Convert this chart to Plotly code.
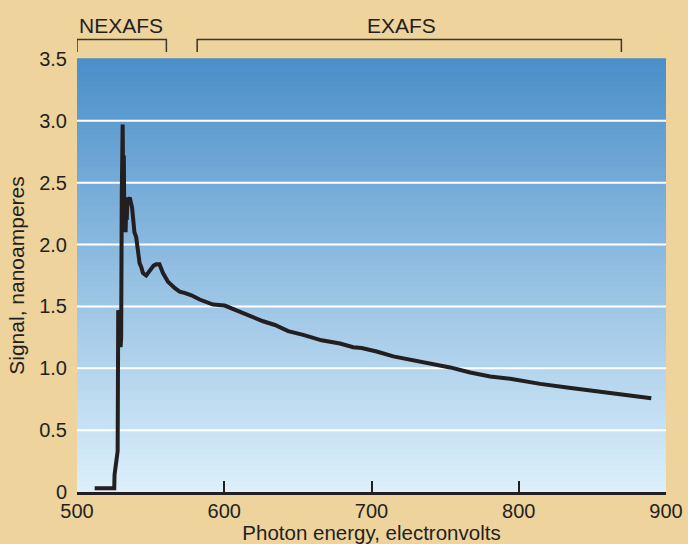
import plotly.graph_objects as go

# ---- data ----
energy_ev = [512, 525.3, 525.5, 526.2, 526.6, 527.2, 527.6, 528.0, 528.3, 528.6, 529.0, 529.6,
             530.0, 530.4, 531.0, 531.4, 531.8, 532.2, 532.6, 533.0, 533.4, 533.8, 534.3, 535.0,
             535.8, 536.6, 537.4, 538.2, 539.0, 540.2, 541.4, 542.5, 543.6, 544.8, 547.0, 549.0,
             550.5, 552.0, 553.8, 556.0, 558.4, 561.8, 566.3, 569.7, 573.0, 577.7, 583.3, 592.4,
             600.3, 608.3, 617.3, 626.4, 634.4, 643.4, 653.6, 659.3, 666.1, 678.6, 687.6, 693.3,
             703.5, 714.8, 726.2, 739.8, 753.4, 767.0, 780.6, 794.2, 801.0, 814.6, 832.8, 855.4,
             873.6, 890.0]
signal_na = [0.03, 0.03, 0.14, 0.20, 0.20, 0.31, 0.33, 1.47, 1.45, 1.20, 1.47, 1.17,
             1.25, 2.40, 2.97, 2.40, 2.72, 2.10, 2.35, 2.10, 2.30, 2.20, 2.38, 2.36,
             2.38, 2.35, 2.30, 2.20, 2.10, 2.06, 1.96, 1.85, 1.82, 1.77, 1.75, 1.78,
             1.81, 1.83, 1.84, 1.84, 1.77, 1.70, 1.65, 1.62, 1.61, 1.59, 1.556, 1.515,
             1.507, 1.47, 1.42, 1.38, 1.35, 1.30, 1.27, 1.25, 1.226, 1.20, 1.17, 1.164,
             1.136, 1.096, 1.069, 1.042, 1.007, 0.966, 0.934, 0.915, 0.90, 0.874, 0.845, 0.807,
             0.78, 0.757]

x_tickvals = [500, 600, 700, 800, 900]
x_ticktext = ["500", "600", "700", "800", "900"]
y_tickvals = [0, 0.5, 1.0, 1.5, 2.0, 2.5, 3.0, 3.5]
y_ticktext = ["0", "0.5", "1.0", "1.5", "2.0", "2.5", "3.0", "3.5"]
grid_vals = [0.5, 1.0, 1.5, 2.0, 2.5, 3.0]

regions = ["NEXAFS", "EXAFS"]
region_start = [500, 581.6]
region_end = [560.7, 869.7]
region_label_x = [529.6, 720.7]

W, H = 688, 544
ML, MR, MT, MB = 77, 22, 59, 52
plot_h = H - MT - MB
INK = "#231f20"
PAPER = "#eed39c"
FONT = "Liberation Sans, Arial, sans-serif"

fig = go.Figure()
fig.add_trace(go.Scatter(x=energy_ev, y=signal_na, mode="lines",
                         line=dict(color=INK, width=4), showlegend=False,
                         hoverinfo="x+y"))

shapes = []
# vertical gradient background of the plot area
top = (74, 143, 201)
bot = (221, 240, 251)
N = 80
for i in range(N):
    t = (i + 0.5) / N  # 0 at bottom
    c = tuple(round(bot[k] + (top[k] - bot[k]) * t) for k in range(3))
    shapes.append(dict(type="rect", xref="paper", yref="paper",
                       x0=0, x1=1, y0=i / N, y1=(i + 1) / N + 0.002,
                       fillcolor="rgb(%d,%d,%d)" % c, line=dict(width=0),
                       layer="below"))
# white horizontal grid lines
for g in grid_vals:
    shapes.append(dict(type="line", xref="paper", yref="y", x0=0, x1=1, y0=g, y1=g,
                       line=dict(color="white", width=2), layer="below"))

# brackets above the plot
y_top = 1 + (MT - 39.5) / plot_h
y_tip = 1 + (MT - 52) / plot_h
annotations = []
for name, s, e, lx in zip(regions, region_start, region_end, region_label_x):
    shapes.append(dict(type="path", xref="x", yref="paper",
                       path=f"M {s},{y_tip} L {s},{y_top} L {e},{y_top} L {e},{y_tip}",
                       line=dict(color="#3a3633", width=1.5)))
    annotations.append(dict(x=lx, y=1 + (MT - 25) / plot_h, xref="x", yref="paper",
                            text=name, showarrow=False,
                            font=dict(family=FONT, size=21, color=INK),
                            xanchor="center", yanchor="middle"))

fig.update_layout(
    width=W, height=H,
    margin=dict(l=ML, r=MR, t=MT, b=MB, pad=0),
    paper_bgcolor=PAPER,
    plot_bgcolor="rgba(0,0,0,0)",
    font=dict(family=FONT, size=20, color=INK),
    shapes=shapes,
    annotations=annotations,
    xaxis=dict(range=[500, 900], tickvals=x_tickvals, ticktext=x_ticktext,
               showgrid=False, zeroline=False, ticks="",
               showline=True, linecolor=INK, linewidth=2.5,
               tickfont=dict(size=20), ticklabelstandoff=-1,
               minor=dict(tickvals=[600, 700, 800], ticks="inside", ticklen=11,
                          tickwidth=1.5, tickcolor=INK, showgrid=False),
               title=dict(text="Photon energy, electronvolts", font=dict(size=20.5),
                          standoff=5),
               automargin=False, fixedrange=True),
    yaxis=dict(range=[0, 3.5], tickvals=y_tickvals, ticktext=y_ticktext,
               showgrid=False, zeroline=False, ticks="", showline=False,
               tickfont=dict(size=20), ticklabelstandoff=9,
               title=dict(text="Signal, nanoamperes", font=dict(size=21), standoff=8),
               automargin=False, fixedrange=True),
)

fig.write_html("out.html", config={"displayModeBar": False},
               post_script="document.body.style.margin='0';"
                           "document.body.style.background='%s';" % PAPER)
